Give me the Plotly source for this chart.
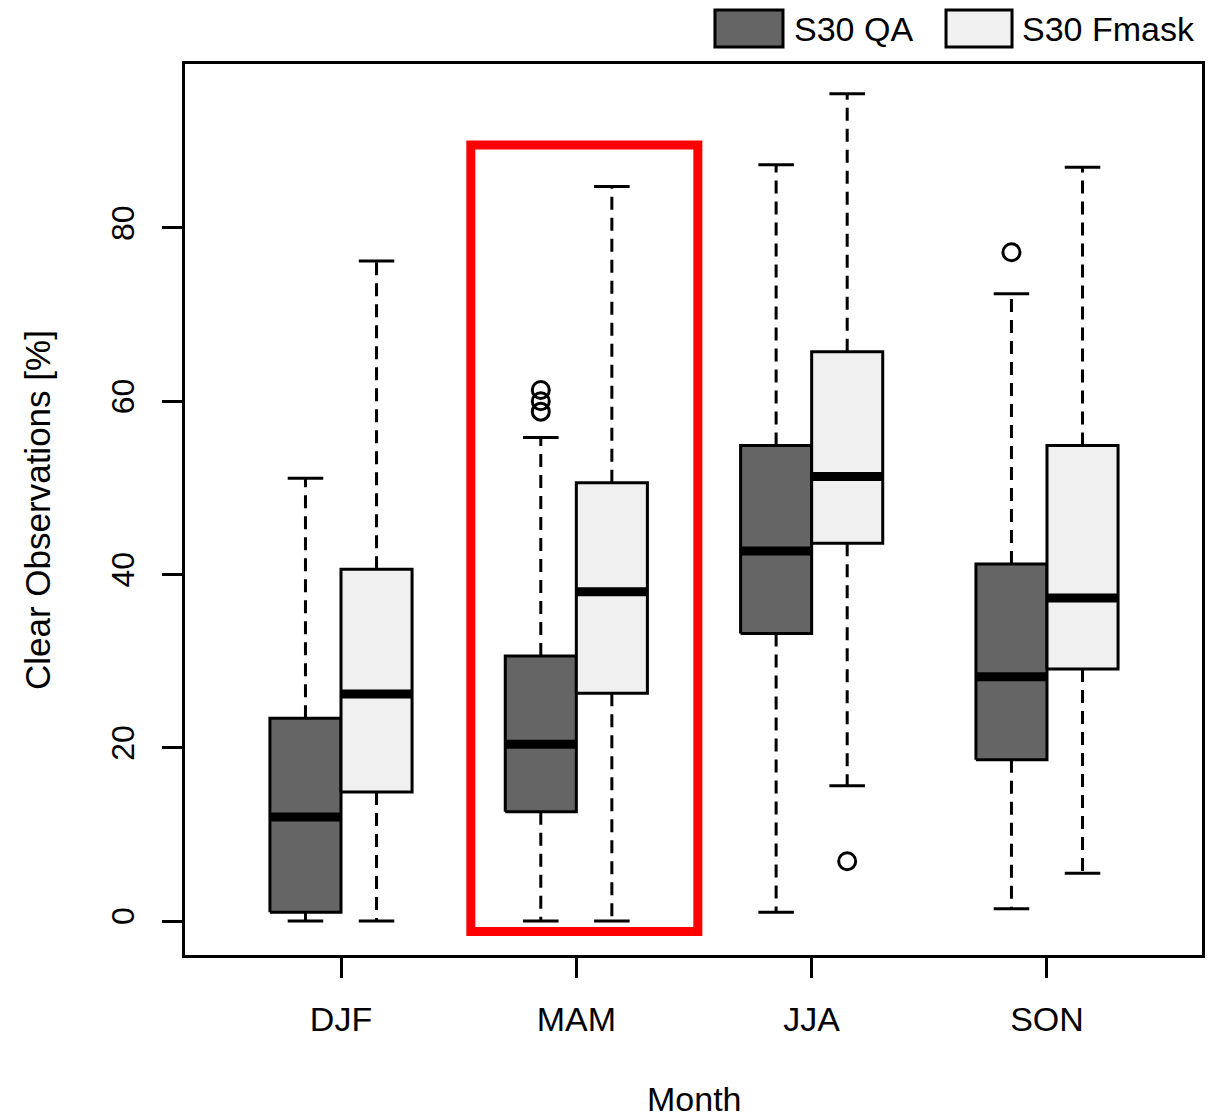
import plotly.graph_objects as go

# ---- data ----
categories = ["DJF", "MAM", "JJA", "SON"]
series_names = ["S30 QA", "S30 Fmask"]

qa_low = [0.0, 0.0, 1.0, 1.4]
qa_q1 = [1.0, 12.6, 33.2, 18.6]
qa_med = [12.0, 20.4, 42.7, 28.2]
qa_q3 = [23.4, 30.6, 54.9, 41.2]
qa_high = [51.1, 55.8, 87.3, 72.4]
qa_outliers = [[], [61.3, 60.0, 58.8], [], [77.2]]

fm_low = [0.0, 0.0, 15.6, 5.5]
fm_q1 = [14.9, 26.3, 43.6, 29.1]
fm_med = [26.2, 38.0, 51.3, 37.3]
fm_q3 = [40.6, 50.6, 65.7, 54.9]
fm_high = [76.2, 84.8, 95.5, 87.0]
fm_outliers = [[], [], [6.9], []]

y_ticks = [0, 20, 40, 60, 80]

# ---- style ----
FONT = "Liberation Sans, Arial, Helvetica, sans-serif"
HALF = 0.151  # half box width in category units
CAP = 0.0755
LW = 3

fig = go.Figure()


def add_series(offset, low, q1, med, q3, high, outs, fill):
    wx, wy, cx, cy, bx, by, mx, my, ox, oy = [], [], [], [], [], [], [], [], [], []
    for i in range(len(categories)):
        c = i + 1 + offset
        l, r = c - HALF, c + HALF
        # whiskers
        wx += [c, c, None, c, c, None]
        wy += [q3[i], high[i], None, q1[i], low[i], None]
        # caps
        cx += [c - CAP, c + CAP, None, c - CAP, c + CAP, None]
        cy += [high[i], high[i], None, low[i], low[i], None]
        # box
        bx += [l, r, r, l, l, None]
        by += [q1[i], q1[i], q3[i], q3[i], q1[i], None]
        # median
        mx += [l, r, None]
        my += [med[i], med[i], None]
        for o in outs[i]:
            ox.append(c)
            oy.append(o)
    fig.add_trace(go.Scatter(x=wx, y=wy, mode="lines", showlegend=False, hoverinfo="skip",
                             line=dict(color="black", width=LW, dash="13px,8px")))
    fig.add_trace(go.Scatter(x=cx, y=cy, mode="lines", showlegend=False, hoverinfo="skip",
                             line=dict(color="black", width=LW)))
    fig.add_trace(go.Scatter(x=bx, y=by, mode="lines", fill="toself", fillcolor=fill,
                             showlegend=False, hoverinfo="skip",
                             line=dict(color="black", width=LW)))
    fig.add_trace(go.Scatter(x=mx, y=my, mode="lines", showlegend=False, hoverinfo="skip",
                             line=dict(color="black", width=9)))
    if ox:
        fig.add_trace(go.Scatter(x=ox, y=oy, mode="markers", showlegend=False, hoverinfo="skip",
                                 marker=dict(symbol="circle-open", size=17, color="black",
                                             line=dict(width=LW, color="black"))))


DARK = "#656565"
LIGHT = "#F0F0F0"
add_series(-HALF, qa_low, qa_q1, qa_med, qa_q3, qa_high, qa_outliers, DARK)
add_series(+HALF, fm_low, fm_q1, fm_med, fm_q3, fm_high, fm_outliers, LIGHT)

# highlight rectangle around MAM
fig.add_shape(type="rect", xref="x", yref="y", x0=1.5517, x1=2.5163, y0=-1.21, y1=89.58,
              line=dict(color="#FF0000", width=9), fillcolor="rgba(0,0,0,0)", layer="above")

# manual legend (paper coords)
fig.add_shape(type="rect", xref="paper", yref="paper", x0=0.5211, x1=0.5880, y0=1.0191, y1=1.0606,
              line=dict(color="black", width=LW), fillcolor=DARK)
fig.add_shape(type="rect", xref="paper", yref="paper", x0=0.7483, x1=0.8132, y0=1.0191, y1=1.0606,
              line=dict(color="black", width=LW), fillcolor=LIGHT)
fig.add_annotation(xref="paper", yref="paper", x=0.5968, y=1.0398, text=series_names[0],
                   showarrow=False, xanchor="left", yanchor="middle",
                   font=dict(family=FONT, size=34, color="black"))
fig.add_annotation(xref="paper", yref="paper", x=0.8210, y=1.0398, text=series_names[1],
                   showarrow=False, xanchor="left", yanchor="middle",
                   font=dict(family=FONT, size=34, color="black"))

# axis titles
fig.add_annotation(xref="paper", yref="paper", x=(694 - 185) / 1017, y=(955 - 1099) / 891,
                   text="Month", showarrow=False, xanchor="center", yanchor="middle",
                   font=dict(family=FONT, size=34, color="black"))
fig.add_annotation(xref="paper", yref="paper", x=(38 - 185) / 1017, y=(955 - 510) / 891,
                   text="Clear Observations [%]", showarrow=False, textangle=-90,
                   xanchor="center", yanchor="middle",
                   font=dict(family=FONT, size=35, color="black"))

fig.update_layout(
    width=1217, height=1120,
    margin=dict(l=185, r=15, t=64, b=165, autoexpand=False),
    plot_bgcolor="white", paper_bgcolor="white",
    font=dict(family=FONT, color="black"),
    xaxis=dict(range=[0.3371, 4.6587], tickmode="array", tickvals=[1, 2, 3, 4], ticktext=categories,
               ticks="outside", ticklen=20, tickwidth=LW, tickcolor="black",
               showline=True, mirror=True, linewidth=LW, linecolor="black",
               showgrid=False, zeroline=False, ticklabelstandoff=12,
               tickfont=dict(family=FONT, size=34, color="black")),
    yaxis=dict(range=[-3.925, 98.93], tickmode="array", tickvals=y_ticks,
               ticktext=[str(v) for v in y_ticks], tickangle=-90,
               ticks="outside", ticklen=20, tickwidth=LW, tickcolor="black",
               showline=True, mirror=True, linewidth=LW, linecolor="black",
               showgrid=False, zeroline=False, ticklabelstandoff=15,
               tickfont=dict(family=FONT, size=32, color="black")),
)

fig.write_html("out.html")
